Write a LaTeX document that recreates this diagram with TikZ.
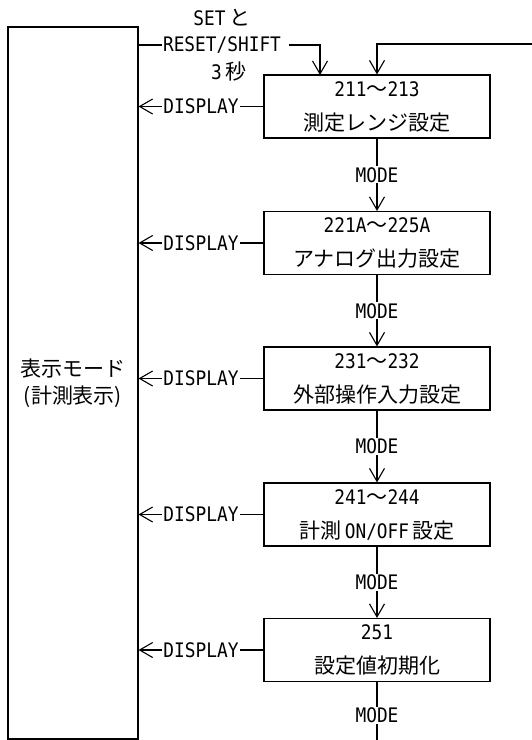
\documentclass[tikz,border=0pt]{standalone}
\usepackage{fontspec}
\setmainfont{DejaVu Sans Mono}[FakeStretch=0.89]
\newfontfamily\jp{Noto Sans CJK JP}[Scale=1.05]
\usetikzlibrary{arrows.meta}
\begin{document}
\begin{tikzpicture}[x=1pt,y=-1pt,line width=1.1pt,
  box/.style={draw, minimum width=226pt, minimum height=63pt, align=center, inner sep=0pt, font=\fontsize{20}{34}\selectfont},
  lbl/.style={fill=white, inner sep=1pt, font=\fontsize{20}{24}\selectfont},
  txt/.style={inner sep=0pt, font=\fontsize{20}{24}\selectfont},
  arr/.style={-{Straight Barb[length=13pt,width=15pt]}}]
\useasboundingbox (0,0) rectangle (532,740);
\node[draw, minimum width=130pt, minimum height=712pt, align=center, inner sep=0pt, font=\fontsize{20}{27}\selectfont] (L) at (73,383) {{\jp 表示モード}\\{\jp (計測表示)}};
\node[box] (b1) at (377,106.5) {211{\jp ～}213\\{\jp 測定レンジ設定}};
\node[box] (b2) at (377,243) {221A{\jp ～}225A\\{\jp アナログ出力設定}};
\node[box] (b3) at (377,378.5) {231{\jp ～}232\\{\jp 外部操作入力設定}};
\node[box] (b4) at (377,514.5) {241{\jp ～}244\\{\jp 計測}\hspace{3pt}ON/OFF\hspace{3pt}{\jp 設定}};
\node[box] (b5) at (377,650) {251\\{\jp 設定値初期化}};
% mode arrows
\draw[arr] (b1.south) -- node[lbl]{MODE} (b2.north);
\draw[arr] (b2.south) -- node[lbl]{MODE} (b3.north);
\draw[arr] (b3.south) -- node[lbl]{MODE} (b4.north);
\draw[arr] (b4.south) -- node[lbl]{MODE} (b5.north);
\coordinate (bend) at (377,740);
\draw (b5.south) -- node[lbl,pos=0.57]{MODE} (bend);
% display arrows
\foreach \b in {b1,b2,b3,b4,b5}
  \draw[arr] (\b.west) -- node[lbl]{DISPLAY} (\b.west -| L.east);
% top entry
\node[txt] (st) at (222,18) {SET\hspace{4pt}{\jp と}};
\node[txt] (rs) at (222,45) {RESET/SHIFT};
\node[txt] (ts) at (229,72) {3\hspace{4pt}{\jp 秒}};
\coordinate (in1) at (320,75);
\draw (L.east |- rs.west) -- ([xshift=-1pt]rs.west);
\draw[arr] ([xshift=8pt]rs.east) -| (in1);
\coordinate (rin) at (532,44);
\draw[arr] (rin) -| (b1.north);
\end{tikzpicture}
\end{document}
